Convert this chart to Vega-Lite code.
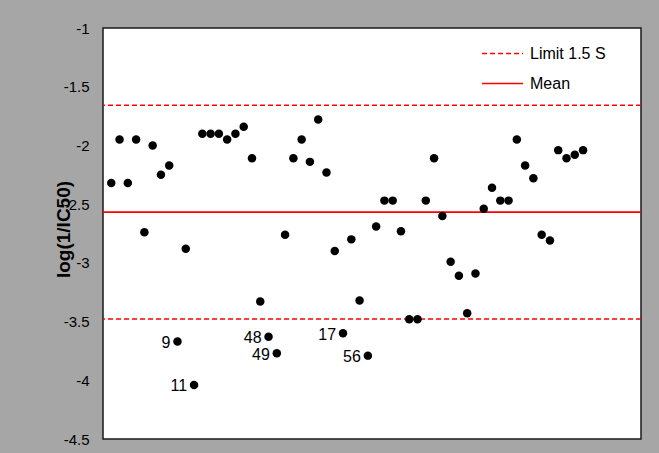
{
  "$schema": "https://vega.github.io/schema/vega-lite/v6.json",
  "width": 538,
  "height": 411,
  "autosize": {"type": "none"},
  "padding": {"left": 103, "top": 28, "right": 18, "bottom": 14},
  "background": "#a6a6a6",
  "config": {
    "font": "Liberation Sans",
    "view": {"fill": "white", "stroke": "#1a1a1a", "strokeWidth": 1.5}
  },
  "datasets": {
    "pts": [
      {"idx": 1, "v": -2.32, "label": null},
      {"idx": 2, "v": -1.95, "label": null},
      {"idx": 3, "v": -2.32, "label": null},
      {"idx": 4, "v": -1.95, "label": null},
      {"idx": 5, "v": -2.74, "label": null},
      {"idx": 6, "v": -2.00, "label": null},
      {"idx": 7, "v": -2.25, "label": null},
      {"idx": 8, "v": -2.17, "label": null},
      {"idx": 9, "v": -3.67, "label": "9"},
      {"idx": 10, "v": -2.88, "label": null},
      {"idx": 11, "v": -4.04, "label": "11"},
      {"idx": 12, "v": -1.90, "label": null},
      {"idx": 13, "v": -1.90, "label": null},
      {"idx": 14, "v": -1.90, "label": null},
      {"idx": 15, "v": -1.95, "label": null},
      {"idx": 16, "v": -1.90, "label": null},
      {"idx": 17, "v": -1.84, "label": null},
      {"idx": 18, "v": -2.11, "label": null},
      {"idx": 19, "v": -3.33, "label": null},
      {"idx": 20, "v": -3.63, "label": "48"},
      {"idx": 21, "v": -3.77, "label": "49"},
      {"idx": 22, "v": -2.76, "label": null},
      {"idx": 23, "v": -2.11, "label": null},
      {"idx": 24, "v": -1.95, "label": null},
      {"idx": 25, "v": -2.14, "label": null},
      {"idx": 26, "v": -1.78, "label": null},
      {"idx": 27, "v": -2.23, "label": null},
      {"idx": 28, "v": -2.90, "label": null},
      {"idx": 29, "v": -3.60, "label": "17"},
      {"idx": 30, "v": -2.80, "label": null},
      {"idx": 31, "v": -3.32, "label": null},
      {"idx": 32, "v": -3.79, "label": "56"},
      {"idx": 33, "v": -2.69, "label": null},
      {"idx": 34, "v": -2.47, "label": null},
      {"idx": 35, "v": -2.47, "label": null},
      {"idx": 36, "v": -2.73, "label": null},
      {"idx": 37, "v": -3.48, "label": null},
      {"idx": 38, "v": -3.48, "label": null},
      {"idx": 39, "v": -2.47, "label": null},
      {"idx": 40, "v": -2.11, "label": null},
      {"idx": 41, "v": -2.60, "label": null},
      {"idx": 42, "v": -2.99, "label": null},
      {"idx": 43, "v": -3.11, "label": null},
      {"idx": 44, "v": -3.43, "label": null},
      {"idx": 45, "v": -3.09, "label": null},
      {"idx": 46, "v": -2.54, "label": null},
      {"idx": 47, "v": -2.36, "label": null},
      {"idx": 48, "v": -2.47, "label": null},
      {"idx": 49, "v": -2.47, "label": null},
      {"idx": 50, "v": -1.95, "label": null},
      {"idx": 51, "v": -2.17, "label": null},
      {"idx": 52, "v": -2.28, "label": null},
      {"idx": 53, "v": -2.76, "label": null},
      {"idx": 54, "v": -2.81, "label": null},
      {"idx": 55, "v": -2.04, "label": null},
      {"idx": 56, "v": -2.11, "label": null},
      {"idx": 57, "v": -2.08, "label": null},
      {"idx": 58, "v": -2.04, "label": null}
    ],
    "lines": [
      {"kind": "Limit 1.5 S", "v": -1.658},
      {"kind": "Mean", "v": -2.568},
      {"kind": "Limit 1.5 S", "v": -3.478}
    ]
  },
  "layer": [
    {
      "data": {"name": "lines"},
      "mark": {"type": "rule", "color": "#ff0000"},
      "encoding": {
        "y": {"field": "v", "type": "quantitative", "scale": {"domain": [-4.5, -1], "nice": false, "zero": false},
          "axis": {"values": [-4.5, -4, -3.5, -3, -2.5, -2, -1.5, -1], "labelExpr": "'' + datum.value", "title": "log(1/IC50)",
            "domain": false, "ticks": false, "grid": false, "labelFontSize": 15, "labelColor": "black", "labelPadding": 14,
            "titleFontSize": 19, "titleFontWeight": "bold", "titleColor": "black", "titleAngle": -90, "titleAlign": "center",
            "titleBaseline": "bottom", "titleX": -30, "titleY": 201}},
        "strokeDash": {"field": "kind", "type": "nominal",
          "scale": {"domain": ["Limit 1.5 S", "Mean"], "range": [[5, 3], [1, 0]]},
          "legend": {"title": null, "orient": "none", "legendX": 378, "legendY": 4, "symbolType": "stroke",
            "symbolSize": 1681, "labelFontSize": 16,
            "labelColor": "black", "labelOffset": 6, "rowPadding": -12, "padding": 0,
            "encode": {"symbols": {"update": {"stroke": {"value": "#ff0000"}, "strokeWidth": {"value": 1.4}, "opacity": {"value": 1}}}}}},
        "strokeWidth": {"field": "kind", "type": "nominal", "scale": {"domain": ["Limit 1.5 S", "Mean"], "range": [1.3, 1.6]}, "legend": null}
      }
    },
    {
      "data": {"name": "pts"},
      "mark": {"type": "circle", "color": "black", "opacity": 1, "size": 72},
      "encoding": {
        "x": {"field": "idx", "type": "quantitative", "scale": {"domain": [0, 65], "nice": false, "zero": false}, "axis": null},
        "y": {"field": "v", "type": "quantitative"}
      }
    },
    {
      "data": {"name": "pts"},
      "transform": [{"filter": "datum.label != null"}],
      "mark": {"type": "text", "align": "right", "baseline": "middle", "dx": -7, "dy": 1.5, "fontSize": 16, "color": "black"},
      "encoding": {
        "x": {"field": "idx", "type": "quantitative"},
        "y": {"field": "v", "type": "quantitative"},
        "text": {"field": "label", "type": "nominal"}
      }
    }
  ]
}
